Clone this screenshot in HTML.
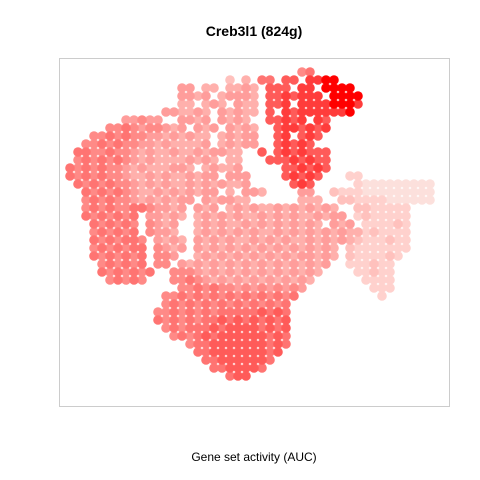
<!DOCTYPE html>
<html><head><meta charset="utf-8"><style>
html,body{margin:0;padding:0;background:#fff;width:480px;height:480px;overflow:hidden}
svg text{font-family:"Liberation Sans",sans-serif}
</style></head><body>
<svg id="chart" width="480" height="480" xmlns="http://www.w3.org/2000/svg">
<text x="254" y="36" text-anchor="middle" font-size="14" font-weight="bold">Creb3l1 (824g)</text>
<rect x="59.5" y="58.5" width="390" height="348" fill="none" stroke="#cccccc"/>
<g id="pts"></g>
<text x="254" y="461" text-anchor="middle" font-size="12">Gene set activity (AUC)</text>
</svg>
<script>
// Embedding grid rows: each row is a list of [startColumn, AUC levels 0-9 per cell, '.' = empty]
const gridRows = [
[[29,"56"]],
[[20,"2.3"],[24,"66.77.8899"]],
[[14,"44.33.3343"],[25,"777.88.9999"]],
[[14,"4434.34443"],[25,"7787888.9999"]],
[[14,"33.343.433"],[25,"778.88889998"]],
[[12,"443343.43433"],[25,"7.878888889"]],
[[7,"44544"],[14,"4434.4343"],[25,"77878.87"]],
[[5,"5565455434.434.4343"],[26,"7887878"]],
[[3,"556565544343433.34344"],[26,"78.787"]],
[[2,"5565655443433334.34344"],[26,"78787"]],
[[1,"665565543433433434433"],[24,"7.7878777"]],
[[1,"565656543433334343"],[20,"33"],[25,"77787877"]],
[[0,"6565655434333443.34334"],[27,"778787"]],
[[0,"6565655433434334344.444"],[27,"78787"],[35,"11"]],
[[1,"6565655434343343434334"],[28,"787"],[36,"1000000000"]],
[[2,"65656543343434344.3.443"],[29,"44"],[33,"2111000000000"]],
[[2,"56565543434344.434433"],[29,"333"],[34,"221111000000"]],
[[2,"565655665"],[11,"4434"],[16,"434.34343343434343"],[36,"2211111"]],
[[2,"6565656"],[10,"44343"],[16,"3434343343434334344"],[36,"1211111"]],
[[3,"656565"],[10,"5434"],[16,"3434334343434343.434"],[37,"111121"]],
[[3,"565656"],[10,"5443"],[16,"343434343343434343433"],[37,"121111"]],
[[3,"6565665"],[11,"4343"],[16,"43434334343433434343"],[36,"2111211"]],
[[3,"5656566"],[11,"5434"],[16,"434343434343434343"],[35,"21111111"]],
[[3,"6565656"],[11,"554"],[16,"343434343434344343"],[35,"2111121"]],
[[4,"565656"],[11,"55"],[14,"4343434343434343434"],[35,"111211"]],
[[4,"6565656"],[13,"5554343434343434343"],[36,"11211"]],
[[5,"56565"],[13,"556543434343434343"],[37,"1111"]],
[[14,"5565655454545454"],[38,"111"]],
[[12,"55656565656565656"],[39,"1"]],
[[12,"5656565656565656"]],
[[11,"55656565666667676"]],
[[11,"65656566767676767"]],
[[12,"5656667677776767"]],
[[13,"565676777777676"]],
[[15,"5667777777676"]],
[[16,"66777777767"]],
[[17,"667777776"]],
[[18,"6677776"]],
[[20,"677"]]
];
const xs = [], ys = [], auc = [];
gridRows.forEach((row, r) => row.forEach(([c0, s]) => {
  for (let i = 0; i < s.length; i++) { if (s[i] === '.') continue; xs.push(c0 + i); ys.push(r); auc.push(+s[i]); }
}));
function xScale(c){ return 70 + 8 * c; }
function yScale(r){ return 72 + 8 * r; }
function colorScale(v){ const t = Math.pow(1 - v / 9, 0.6); const g = Math.round(224 * t); const b = Math.round(220 * t); return `rgb(${v>0?255:252},${g},${b})`; }
const layer = document.getElementById('pts');
const NS = 'http://www.w3.org/2000/svg';
const order = auc.map((v,i)=>i).sort((a,b)=>auc[a]-auc[b]);
order.forEach(i => {
  const el = document.createElementNS(NS, 'circle');
  el.setAttribute('cx', xScale(xs[i]));
  el.setAttribute('cy', yScale(ys[i]));
  el.setAttribute('r', 4.8);
  el.setAttribute('fill', colorScale(auc[i]));
  
  
  layer.appendChild(el);
});
</script>
</body></html>
